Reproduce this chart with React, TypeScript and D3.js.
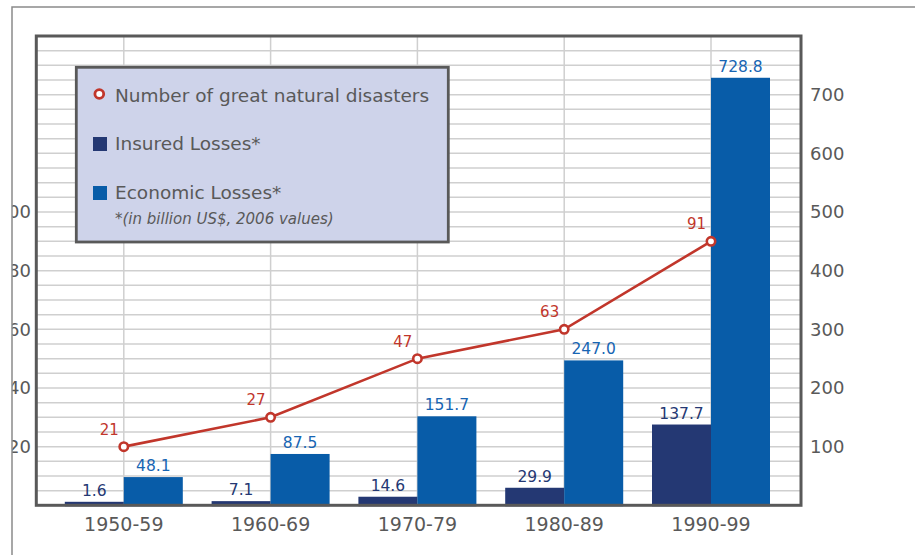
import * as d3 from "d3";

const decades = ["1950-59", "1960-69", "1970-79", "1980-89", "1990-99"];
const insuredLosses = [1.6, 7.1, 14.6, 29.9, 137.7];
const economicLosses = [48.1, 87.5, 151.7, 247.0, 728.8];
const disasterCounts = [21, 27, 47, 63, 91];
// where the points sit on the left axis in the picture
const disasterPlotted = [20, 30, 50, 60, 90];
const rightTicks = [100, 200, 300, 400, 500, 600, 700];
const leftTicks = [20, 40, 60, 80, 100];

const App: React.FC = () => {
    const width = 915;
    const height = 555;
    const plotLeft = 36.3;
    const plotRight = 801;
    const plotTop = 36;
    const plotBottom = 505.3;
    const barWidth = 59;
    const minBar = 3.5;
    const font = "'DejaVu Sans', sans-serif";
    const grey = "#595959";

    const x = d3.scalePoint(decades, [123.8, 711]);
    const yR = d3.scaleLinear([0, 800], [plotBottom, plotTop]);
    const yL = d3.scaleLinear([0, 160], [plotBottom, plotTop]);
    const gridValues = d3.range(25, 800, 25);
    const line = d3.line<number>((_, i) => x(decades[i])!, (d) => yL(d));
    // tiny bars still show a sliver above the frame, as in the print
    const barTop = (v: number) => Math.min(yR(v), plotBottom - minBar);

    return (
        <svg width={width} height={height} style={{ position: "absolute", left: 0, top: 0 }}>
            <defs>
                <clipPath id="leftClip">
                    <rect x={12.5} y={0} width={40} height={height} />
                </clipPath>
            </defs>
            <rect width={width} height={height} fill="#fff" />
            <path d={`M12,${height}V7H${width}`} fill="none" stroke="#8a8a8a" strokeWidth={1.5} />

            <g stroke="#cfcfcf" strokeWidth={1.5}>
                {gridValues.map((v) => (
                    <line key={v} x1={plotLeft} x2={plotRight} y1={yR(v)} y2={yR(v)} />
                ))}
                {decades.map((d) => (
                    <line key={d} x1={x(d)} x2={x(d)} y1={plotTop} y2={plotBottom} />
                ))}
            </g>

            {decades.map((d, i) => (
                <g key={d}>
                    <rect x={x(d)! - barWidth} y={barTop(insuredLosses[i])} width={barWidth}
                        height={plotBottom + 1 - barTop(insuredLosses[i])} fill="#243873" />
                    <rect x={x(d)} y={barTop(economicLosses[i])} width={barWidth}
                        height={plotBottom + 1 - barTop(economicLosses[i])} fill="#085ca8" />
                    <text x={x(d)! - barWidth / 2} y={barTop(insuredLosses[i]) - 6} textAnchor="middle"
                        fontFamily={font} fontSize={15.5} fill="#243873">{insuredLosses[i].toFixed(1)}</text>
                    <text x={x(d)! + barWidth / 2} y={barTop(economicLosses[i]) - 6} textAnchor="middle"
                        fontFamily={font} fontSize={15.5} fill="#1765b3">{economicLosses[i].toFixed(1)}</text>
                </g>
            ))}

            <path d={line(disasterPlotted) ?? undefined} fill="none" stroke="#c1362b" strokeWidth={2.6} />
            {disasterPlotted.map((v, i) => (
                <g key={i}>
                    <circle cx={x(decades[i])} cy={yL(v)} r={4.2} fill="#fff" stroke="#c1362b" strokeWidth={2.6} />
                    <text x={x(decades[i])! - 5} y={yL(v) - 12} textAnchor="end" fontFamily={font}
                        fontSize={15} fill="#c1362b">{disasterCounts[i]}</text>
                </g>
            ))}

            <rect x={plotLeft} y={plotTop} width={plotRight - plotLeft} height={plotBottom - plotTop}
                fill="none" stroke={grey} strokeWidth={3} />

            {rightTicks.map((t) => (
                <text key={t} x={810} y={yR(t) + 6.5} fontFamily={font} fontSize={18} fill={grey}>{t}</text>
            ))}
            <g clipPath="url(#leftClip)">
                {leftTicks.map((t) => (
                    <text key={t} x={31} y={yL(t) + 6.5} textAnchor="end" fontFamily={font} fontSize={18}
                        fill={grey}>{t}</text>
                ))}
            </g>
            {decades.map((d) => (
                <text key={d} x={x(d)} y={531} textAnchor="middle" fontFamily={font} fontSize={19}
                    fill={grey}>{d}</text>
            ))}

            <g fontFamily={font} fill={grey}>
                <rect x={76.3} y={67.3} width={372} height={174.7} fill="#ced3ea" stroke={grey} strokeWidth={2.8} />
                <circle cx={99.3} cy={94} r={4.4} fill="#fff" stroke="#c1362b" strokeWidth={2.8} />
                <text x={115} y={101.5} fontSize={18.5}>Number of great natural disasters</text>
                <rect x={93} y={137} width={14} height={14} fill="#243873" />
                <text x={115} y={150} fontSize={18.5}>Insured Losses*</text>
                <rect x={93} y={186} width={14} height={14} fill="#085ca8" />
                <text x={115} y={199} fontSize={18.5}>Economic Losses*</text>
                <text x={115} y={224} fontSize={15} fontStyle="italic">*(in billion US$, 2006 values)</text>
            </g>
        </svg>
    );
};

export default App;
